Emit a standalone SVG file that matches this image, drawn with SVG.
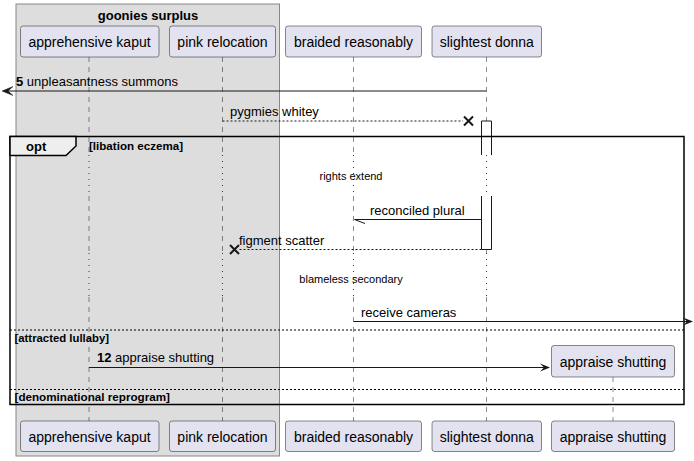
<svg xmlns="http://www.w3.org/2000/svg" width="694" height="461" viewBox="0 0 694 461">
<style>
.pbox{fill:#E2E2F0;stroke:#181818;stroke-width:0.5}
.ptxt{font-family:"Liberation Sans",Arial,sans-serif;font-size:14px;fill:#000;text-anchor:middle}
.life{stroke:#181818;stroke-width:0.5;stroke-dasharray:5,5;fill:none}
.dly{stroke:#A80036;stroke-width:1;stroke-dasharray:1,5;fill:none}
.msg{stroke:#181818;stroke-width:1;fill:none}
.dmsg{stroke:#181818;stroke-width:1;fill:none;stroke-dasharray:2,2}
.mtxt{font-family:"Liberation Sans",Arial,sans-serif;font-size:13px;fill:#000}
.btxt{font-family:"Liberation Sans",Arial,sans-serif;font-size:11px;font-weight:bold;fill:#000}
.stxt{font-family:"Liberation Sans",Arial,sans-serif;font-size:11px;fill:#000;text-anchor:middle}
.sep{stroke:#000;stroke-width:1;stroke-dasharray:2,2;fill:none}
</style>
<g id="group-goonies">
<rect x="16" y="4" width="263.5" height="452" fill="#DDDDDD" stroke="#888888" stroke-width="1"/>
<text x="148" y="20" font-family="Liberation Sans,Arial,sans-serif" font-size="13" font-weight="bold" text-anchor="middle">goonies surplus</text>
</g>
<g id="lifelines">
<path class="life" d="M89,57V155M89,196V253M89,297V421"/>
<path class="dly" d="M89,155V196M89,253V297"/>
<path class="life" d="M222.5,57V155M222.5,196V253M222.5,297V421"/>
<path class="dly" d="M222.5,155V196M222.5,253V297"/>
<path class="life" d="M353.5,57V155M353.5,196V253M353.5,297V421"/>
<path class="dly" d="M353.5,155V196M353.5,253V297"/>
<path class="life" d="M486.5,57V121M486.5,249V253M486.5,297V421"/>
<path class="dly" d="M486.5,155V196M486.5,253V297"/>
<path class="life" d="M613,377V421"/>
</g>
<g id="activation-slightest">
<rect x="481.5" y="121" width="10" height="34" fill="#FFFFFF" stroke="none"/>
<path d="M481.5,155V121H491.5V155" fill="none" stroke="#181818" stroke-width="1"/>
<rect x="481.5" y="196" width="10" height="53.5" fill="#FFFFFF" stroke="none"/>
<path d="M481.5,196V249.5H491.5V196" fill="none" stroke="#181818" stroke-width="1"/>
</g>
<g id="frame-opt">
<rect x="10" y="136.5" width="674" height="268" fill="none" stroke="#000" stroke-width="1.5"/>
<polygon points="10,136.5 76,136.5 76,146 66,155.5 10,155.5" fill="#EEEEEE" stroke="#000" stroke-width="1.5"/>
<text x="26" y="151" font-family="Liberation Sans,Arial,sans-serif" font-size="13" font-weight="bold">opt</text>
<text class="btxt" x="89" y="150" textLength="94" lengthAdjust="spacingAndGlyphs">[libation eczema]</text>
<path class="sep" d="M10,330H684M10,389.5H684"/>
<text class="btxt" x="14.5" y="342" textLength="94.5" lengthAdjust="spacingAndGlyphs">[attracted lullaby]</text>
<text class="btxt" x="14.5" y="401" textLength="155.5" lengthAdjust="spacingAndGlyphs">[denominational reprogram]</text>
</g>
<g id="connectors">
<path class="msg" d="M486.5,91H4"/>
<polygon points="2,91 13,86.5 8,91 13,95.5" fill="#181818" stroke="#181818" stroke-width="0.5"/>
<text class="mtxt" x="16" y="86"><tspan font-weight="bold">5</tspan> unpleasantness summons</text>
<path class="dmsg" d="M222.5,121H463"/>
<path d="M464,116.5L473,125.5M464,125.5L473,116.5" stroke="#181818" stroke-width="2"/>
<text class="mtxt" x="230" y="116">pygmies whitey</text>
<text class="stxt" x="351" y="180">rights extend</text>
<path class="msg" d="M481.5,219.5H354.5L365,223.5"/>
<text class="mtxt" x="370" y="215">reconciled plural</text>
<path class="dmsg" d="M481.5,249.5H239"/>
<path d="M230,245L239,254M230,254L239,245" stroke="#181818" stroke-width="2"/>
<text class="mtxt" x="239" y="245">figment scatter</text>
<text class="stxt" x="351" y="283">blameless secondary</text>
<path class="msg" d="M353.5,321.5H692"/>
<polygon points="693,321.5 683,317.5 687,321.5 683,325.5" fill="#181818"/>
<text class="mtxt" x="361" y="317">receive cameras</text>
<path class="msg" d="M89,367.5H549"/>
<polygon points="550,367.5 540,363.5 544,367.5 540,371.5" fill="#181818"/>
<text class="mtxt" x="97" y="362"><tspan font-weight="bold">12</tspan> appraise shutting</text>
</g>
<g id="p-apprehensive">
<rect class="pbox" x="20.5" y="26" width="138.5" height="31" rx="2.5"/>
<text class="ptxt" x="89.5" y="47">apprehensive kaput</text>
<rect class="pbox" x="20.5" y="421" width="138.5" height="30.5" rx="2.5"/>
<text class="ptxt" x="89.5" y="442">apprehensive kaput</text>
</g>
<g id="p-pink">
<rect class="pbox" x="169.5" y="26" width="106" height="31" rx="2.5"/>
<text class="ptxt" x="222.5" y="47">pink relocation</text>
<rect class="pbox" x="169.5" y="421" width="106" height="30.5" rx="2.5"/>
<text class="ptxt" x="222.5" y="442">pink relocation</text>
</g>
<g id="p-braided">
<rect class="pbox" x="285.5" y="26" width="136" height="31" rx="2.5"/>
<text class="ptxt" x="353.5" y="47">braided reasonably</text>
<rect class="pbox" x="285.5" y="421" width="136" height="30.5" rx="2.5"/>
<text class="ptxt" x="353.5" y="442">braided reasonably</text>
</g>
<g id="p-slightest">
<rect class="pbox" x="432" y="26" width="109.5" height="31" rx="2.5"/>
<text class="ptxt" x="486.75" y="47">slightest donna</text>
<rect class="pbox" x="432" y="421" width="109.5" height="30.5" rx="2.5"/>
<text class="ptxt" x="486.75" y="442">slightest donna</text>
</g>
<g id="p-appraise">
<rect class="pbox" x="551.5" y="345.5" width="123" height="31.5" rx="2.5"/>
<text class="ptxt" x="613" y="366.5">appraise shutting</text>
<rect class="pbox" x="551.5" y="421" width="123" height="30.5" rx="2.5"/>
<text class="ptxt" x="613" y="442">appraise shutting</text>
</g>
</svg>
